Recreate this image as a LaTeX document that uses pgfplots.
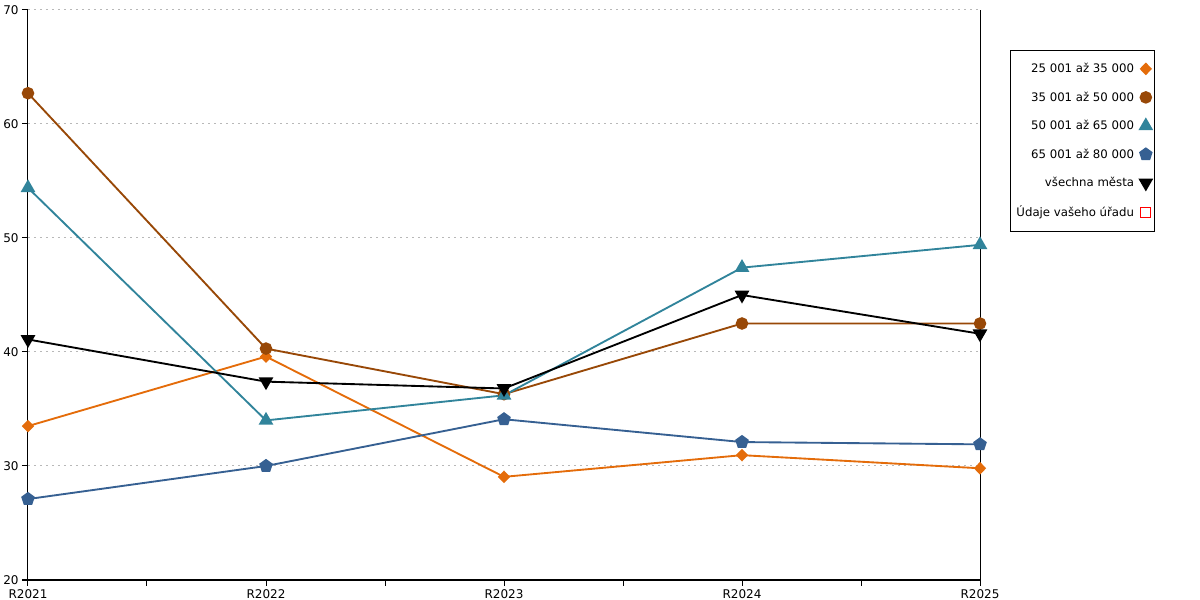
\documentclass[border=0pt]{standalone}
\usepackage{fontspec}
\setmainfont{DejaVu Sans}
\usepackage{pgfplots}
\pgfplotsset{compat=1.18}
\definecolor{corange}{RGB}{228,108,10}
\definecolor{cbrown}{RGB}{152,72,7}
\definecolor{cteal}{RGB}{49,132,155}
\definecolor{cblue}{RGB}{54,96,146}
\begin{document}
\begin{tikzpicture}[x=0.75pt,y=0.75pt]
\path[use as bounding box] (0,0) rectangle (1200,600);
\begin{axis}[
  at={(28*0.75pt,20*0.75pt)}, anchor=south west,
  scale only axis, width=952*0.75pt, height=570*0.75pt,
  xmin=0, xmax=4, ymin=20, ymax=70,
  xtick={0,1,2,3,4}, xticklabels={R2021,R2022,R2023,R2024,R2025},
  minor xtick={0.5,1.5,2.5,3.5},
  ytick={20,30,40,50,60,70},
  tick align=outside, major tick length=4.5pt, minor tick length=4.5pt,
  tick style={black, line width=0.75pt},
  axis x line*=bottom, axis y line*=left,
  axis line style={line width=0.75pt, -},
  ymajorgrids, grid style={black!28, dash pattern=on 1.5pt off 3pt, line width=0.75pt},
  tick label style={font=\fontsize{9}{10}\selectfont},
  /pgf/number format/assume math mode=true,
  yticklabel style={xshift=1pt},
  xticklabel style={yshift=1pt},
  clip=false,
  legend style={at={(1.0315,0.9298)}, anchor=north west, draw=black, line width=0.75pt,
    font=\fontsize{8.8}{10}\selectfont, row sep=8.85pt, column sep=2.5pt, inner xsep=2.5pt, inner ysep=7.5pt},
  legend plot pos=right, legend cell align=right,
  legend image code/.code={\draw[#1] plot[only marks] coordinates {(0.2cm,0cm)};},
  every axis plot/.append style={line width=1.4pt},
]
\addplot[corange, mark=diamond*, mark size=3.75pt, mark options={xscale=1.3}] coordinates {(0,33.5) (1,39.6) (2,29.05) (3,30.95) (4,29.8)};
\addlegendentry{25 001 až 35 000}
\addplot[cbrown, mark=*, mark size=4pt] coordinates {(0,62.7) (1,40.3) (2,36.3) (3,42.5) (4,42.5)};
\addlegendentry{35 001 až 50 000}
\addplot[cteal, mark=triangle*, mark size=5pt] coordinates {(0,54.4) (1,34.0) (2,36.2) (3,47.4) (4,49.4)};
\addlegendentry{50 001 až 65 000}
\addplot[cblue, mark=pentagon*, mark size=4.5pt] coordinates {(0,27.1) (1,30.0) (2,34.1) (3,32.1) (4,31.9)};
\addlegendentry{65 001 až 80 000}
\addplot[black, mark=triangle*, mark size=5pt, mark options={rotate=180}] coordinates {(0,41.1) (1,37.4) (2,36.8) (3,45.0) (4,41.6)};
\addlegendentry{všechna města}
\addlegendimage{red, mark=square, mark size=3.75pt, line width=0.75pt}
\addlegendentry{Údaje vašeho úřadu}
\draw[black, line width=0.75pt] (rel axis cs:1,0) -- (rel axis cs:1,1);
\end{axis}
\end{tikzpicture}
\end{document}
